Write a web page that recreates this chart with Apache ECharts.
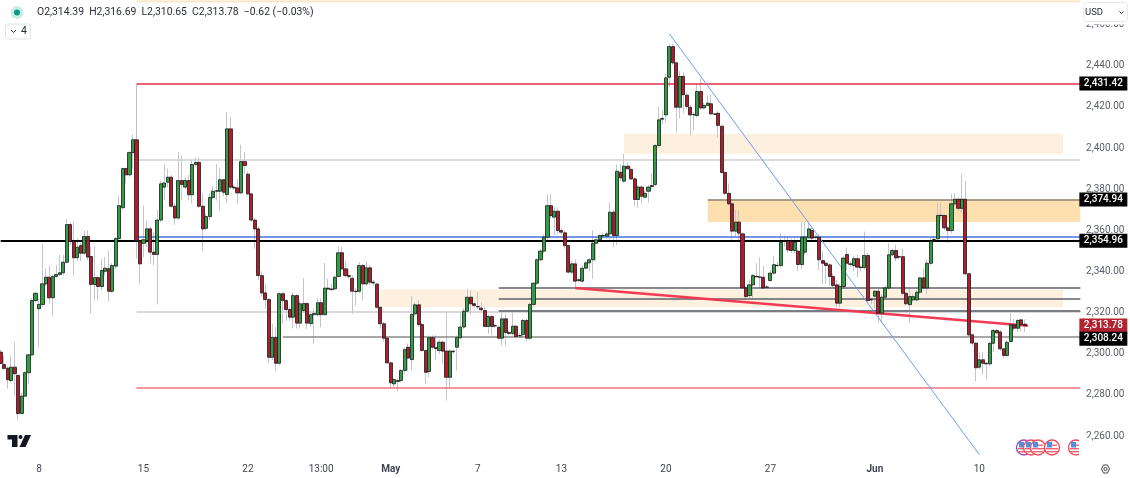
<!DOCTYPE html>
<html style="height: 100%">
<head>
<meta charset="utf-8">
<title>XAUUSD 4h</title>
<script src="https://cdn.jsdelivr.net/npm/echarts@6/dist/echarts.min.js"></script>
</head>
<body style="height: 100%; margin: 0; background: #fff">
<div id="chart" style="width: 1130px; height: 478px"></div>
<script>
// candles, one row = ten bars
var opens = [
  2300.8,2294.8,2293,2287,2293.5,2289.5,2271,2279.4,2290.8,2299.5,
  2325.9,2321.9,2324,2334,2337.2,2327.2,2337.6,2338.5,2339.4,2344.5,
  2362.8,2354.6,2346.7,2352.6,2348.9,2357,2347.3,2333.7,2337,2332.7,
  2340.1,2341.4,2330.4,2342.6,2356,2371,2390,2387,2397.8,2404,
  2354.6,2353.7,2355,2360.7,2349.4,2348.3,2365,2381,2383.4,2385.8,
  2371.7,2366,2384.2,2381,2384.2,2377.3,2392,2393,2371.7,2361,
  2366.7,2376,2379,2379,2384.6,2377.4,2409.3,2381,2380.6,2378.2,
  2393.4,2387.3,2377.7,2365,2360.7,2338,2329.6,2326.4,2298.3,2308,
  2295.4,2329.2,2325.9,2321.5,2317.8,2328.3,2314.9,2321,2324.4,2314.7,
  2319,2319,2324.8,2319,2331.9,2331.2,2331.6,2337.6,2349.1,2341.3,
  2338,2336.7,2330.4,2330.4,2342.9,2334,2341.8,2334.8,2333.9,2322.6,
  2314.6,2307.6,2295.6,2285.4,2286.5,2287,2291.9,2303.2,2297.2,2319.4,
  2323.8,2314.2,2301.6,2291.4,2307.8,2303,2301.6,2305.6,2301.3,2288.6,
  2301.3,2303.2,2307.8,2313,2320.7,2327.5,2324.3,2322.8,2322.2,2321,
  2313.3,2318.1,2313.5,2312.9,2307.6,2317,2310.3,2309.9,2313.4,2308.7,
  2309.4,2316.2,2307.6,2324,2334.3,2345.7,2349.9,2356.7,2372,2366.4,
  2369.3,2359.9,2358.8,2352.6,2339.7,2343.7,2335.6,2335.3,2341.6,2344.2,
  2345.7,2353.7,2355.4,2357.5,2357.2,2358.3,2368.8,2357.5,2388.2,2383.9,
  2391.2,2389.6,2385,2375,2381,2376.1,2379,2381.3,2382.3,2401.2,
  2414,2416.1,2434.4,2449.3,2441.4,2419.8,2434.8,2425.7,2419.8,2416.1,
  2415.8,2427.5,2419.5,2420.7,2421.5,2416.6,2416.9,2410.6,2388.1,2378,
  2372.9,2359.6,2364,2358.3,2332,2328.3,2333.5,2337.6,2337.2,2337.2,
  2332.3,2335.6,2339.2,2343,2342.9,2354.7,2354.7,2354.7,2350.2,2349.9,
  2343.4,2349.4,2356.4,2359.9,2356.7,2356.7,2345.3,2344,2343.2,2337.6,
  2333.5,2324.6,2332.7,2348.3,2343.7,2342.9,2346.2,2342.1,2341.9,2347.8,
  2326.4,2328,2330.4,2319.7,2327.5,2332,2348.1,2350.2,2347.2,2347.2,
  2329.4,2323.9,2326.2,2326.2,2329.9,2336.9,2332,2344,2355.5,2355.9,
  2367.2,2367.2,2361.2,2359.9,2372.9,2375.1,2370.7,2375.1,2338.9,2309.2,
  2305.2,2293.5,2297.1,2295.4,2295.1,2305.1,2311.3,2310.6,2302.4,2299.2,
  2306,2314.1,2312.4,2316.5,2314.39
];
var highs = [
  2302,2299,2294,2299,2305.5,2290,2281,2291.5,2300,2327,
  2330,2326.5,2353.5,2341.5,2343,2338.5,2343,2348,2348,2365.3,
  2363.8,2364,2356,2354,2360,2360,2352,2352,2338,2346,
  2347,2350,2344,2356.7,2376.9,2390.5,2390.5,2398.5,2406.5,2405,
  2355,2372,2364.8,2362,2359,2370,2384,2392,2390,2387,
  2373,2398,2396.4,2386,2387,2394.4,2395.4,2395.4,2378,2368,
  2378,2381.3,2392,2390,2385,2417.4,2415,2382,2385,2401.6,
  2398,2388.6,2378,2366,2362,2340,2334,2327,2314.6,2313,
  2330,2330,2326.5,2323,2330,2329,2326,2336.9,2325,2320,
  2322,2327,2327,2344.2,2336.4,2334,2338,2352.3,2351.8,2345,
  2341,2338,2332,2344.5,2343.7,2345,2343,2336,2334.5,2323,
  2315.5,2308,2296,2288,2288,2292.5,2303,2305,2328,2325,
  2326,2315,2302,2309,2309,2309,2307,2306.5,2320.7,2302,
  2302,2309,2320,2322,2331.6,2331,2325,2330,2325,2323,
  2319,2319,2314.5,2313.5,2321,2319.5,2311,2321,2314,2310,
  2317,2317,2325,2335,2346.5,2351,2358,2377.5,2377.7,2371,
  2371,2361,2360,2353,2345,2346,2337,2343,2345,2346.5,
  2360,2357,2358,2359,2359.5,2373.7,2370,2392,2392,2397.2,
  2393,2391,2386,2382,2382,2379.5,2382,2387.6,2402,2420,
  2418.2,2436,2450.5,2450.5,2442,2437.5,2436.9,2427,2421,2417.5,
  2431.2,2433.7,2422,2425.5,2426,2417,2418,2411,2388.5,2382.8,
  2375,2370,2369.6,2359,2333,2336,2339,2343.9,2346.9,2342.9,
  2333.5,2341,2347.3,2344.5,2358.5,2357.5,2357,2356,2356,2350.5,
  2364,2364,2364,2361.5,2358,2358,2350,2345,2344,2339,
  2336,2334,2347.5,2351.7,2345,2347.5,2348,2343,2359.4,2349,
  2327,2331,2332,2329,2333.5,2353.7,2351,2353,2348,2351,
  2330,2331.9,2329,2331,2337.5,2341.5,2346,2356.7,2357,2373.4,
  2373.7,2368,2362,2377.8,2378,2376,2387.1,2384,2339.5,2310,
  2305.5,2300.8,2300.8,2296,2306,2312,2312,2311.5,2303,2306.5,
  2319.7,2317,2317,2317,2316.69
];
var lows = [
  2295,2292,2283,2286,2279.7,2267.6,2270.5,2279,2285.5,2299,
  2325,2303,2323,2333,2324.5,2318.6,2337,2338,2338,2344,
  2353,2338,2345,2345,2348,2345.5,2319.5,2326,2326,2331,
  2338,2325.4,2329.5,2341,2355,2370,2382.8,2386,2390,2346.3,
  2334,2347,2352,2344,2343,2324,2364,2375,2381,2371,
  2362.8,2365,2374.5,2380,2374.5,2373,2391,2371,2350,2360,
  2365,2375,2374.5,2369.6,2376.5,2373.7,2380,2379.5,2372.9,2377.5,
  2387.6,2377,2364,2351,2336,2328,2322,2295.5,2297,2291.4,
  2294.5,2314.7,2316,2316,2312.3,2312.3,2312.3,2320,2312,2313,
  2304.9,2318,2312.8,2318.6,2331,2330.5,2331,2337,2341,2337,
  2336.5,2319.4,2323.5,2329.5,2325.9,2333,2333.5,2333,2322,2312,
  2306,2295,2283,2284,2281.8,2286,2290,2291.5,2292,2318,
  2313,2301,2285.4,2288.6,2302,2297,2300,2295.5,2277.3,2283,
  2300,2291.9,2307,2312,2320,2319,2322.5,2321.5,2320.5,2313,
  2309.9,2309,2312.5,2307,2304,2304,2309,2308.9,2307.5,2308,
  2308,2306,2306.5,2323,2333.5,2345,2349,2355,2366,2357.5,
  2358,2358,2351,2339,2338.5,2332,2335,2334.5,2341,2340,
  2336.4,2345,2354.5,2356.5,2356,2355,2351.8,2353,2383.9,2383,
  2389.5,2384.5,2371.6,2371,2373,2375.5,2373.6,2380.5,2381.5,2400,
  2411.5,2412.4,2429.6,2440.5,2407.7,2414.5,2417,2419,2406,2408.5,
  2415,2418.5,2419,2420.5,2416,2416,2405,2387.5,2377,2372,
  2355,2357,2354.5,2331.5,2326,2327,2326.9,2337,2332.3,2331.5,
  2331.5,2335,2338.5,2342,2342,2352,2349,2349,2349,2340.1,
  2341,2348,2356,2355,2355.5,2340.5,2334,2334,2333,2332,
  2322.6,2322.5,2331.5,2340.5,2342,2340,2337.2,2340,2341,2325,
  2324,2322,2315,2315.3,2326.5,2331,2347.5,2345,2346,2328.5,
  2323.5,2315.3,2325,2325.5,2329,2331,2329,2343,2354.5,2355,
  2366,2360,2353.7,2358.5,2372,2369.5,2368.5,2338,2308.5,2304,
  2286.7,2292.5,2290,2287.5,2294,2301,2309.5,2301.5,2297.7,2298.5,
  2305.5,2311,2310.5,2311,2310.65
];
var closes = [
  2295.3,2292.9,2287.4,2293.5,2290.3,2271,2279.4,2290.8,2299.5,2325.9,
  2329.4,2324,2334,2337.2,2327.2,2337.6,2338.5,2339.4,2344.5,2362.8,
  2354.6,2346.7,2351.8,2348.9,2357,2347,2333.7,2337,2332.7,2340.5,
  2341.6,2330.4,2342.9,2356,2372,2390,2387,2397.8,2404,2355,
  2343.7,2355.4,2360.7,2349.4,2348.3,2365,2382.6,2383,2385.8,2371.7,
  2366,2384.2,2382.3,2384.2,2377.3,2392,2393,2371.7,2360.7,2366.7,
  2376,2379,2379.3,2384.6,2378.5,2409.3,2381,2380.6,2378.2,2393.4,
  2391.5,2377.7,2365,2360.7,2338,2329.6,2326.4,2298.3,2308,2295.4,
  2329.2,2325.9,2321.5,2317.8,2328.3,2314.9,2324.3,2324.4,2314.9,2319,
  2319.6,2324.8,2319,2331.9,2331.5,2331.5,2337.2,2349.1,2341.3,2338,
  2337.6,2330.4,2330.2,2342.9,2334,2341.8,2334.8,2334.4,2322.6,2314.6,
  2307.6,2295.6,2285.9,2287.5,2287,2291.9,2302,2297.9,2319.1,2323.8,
  2314.2,2301.6,2291,2307.8,2303.2,2302.5,2305.6,2301.3,2288.6,2301.3,
  2301,2307.8,2313,2320.7,2327.5,2324.3,2323.5,2323,2321.4,2313.3,
  2318.1,2313.3,2313.7,2307.6,2317,2310.3,2309.9,2313.4,2308.4,2308.9,
  2316.2,2307.6,2324,2334.3,2345.7,2349.9,2356.7,2372,2367.2,2369.3,
  2359.9,2359.1,2352.6,2339.7,2343.7,2335.3,2336,2341.6,2344.2,2345.7,
  2353.7,2355.4,2357.5,2357.3,2358.3,2368.8,2357.5,2388.7,2385.5,2391.2,
  2389.9,2385,2375,2381,2376.6,2378,2381,2381.8,2401.2,2413.7,
  2414.4,2434.1,2449.3,2441.4,2419.8,2434.8,2425.9,2420.2,2416.1,2416.3,
  2427.5,2419.5,2420.7,2421.8,2416.6,2416.4,2411,2388.1,2378,2372.9,
  2359.6,2364,2358.6,2332,2327.8,2333.5,2338,2337.4,2337.3,2332,
  2332.5,2339.2,2343.3,2342.9,2354.2,2354.8,2350.5,2350.2,2354.2,2343.4,
  2356.7,2356.7,2360.7,2356.2,2356.5,2345.7,2344,2342.9,2337.6,2333.2,
  2324.6,2332.7,2346.5,2344,2343.5,2346.2,2342.1,2341.9,2347.8,2325.9,
  2326.2,2330.4,2319.7,2327.5,2332,2348.1,2350.2,2346.6,2347,2329.4,
  2324.3,2327.8,2327.8,2329.9,2336.9,2332,2344,2354.6,2355.6,2367.2,
  2367.3,2361.2,2359.9,2372.9,2375.1,2370.7,2375.1,2338.9,2309.2,2305.2,
  2293.2,2297.1,2295.4,2295.1,2305.1,2311.3,2310.2,2302.4,2299.2,2305.6,
  2314.1,2312.4,2316.2,2314.1,2313.78
];

// axis ticks
var timeTickBars = [11, 41, 71, 92, 112, 137, 161, 191, 221, 251, 281];
var timeTickLabels = ['8', '15', '22', '13:00', 'May', '7', '13', '20', '27', 'Jun', '10'];
var priceTicks = [2260, 2280, 2300, 2320, 2340, 2360, 2380, 2400, 2420, 2440, 2460];

// drawn levels
var resistanceTop = 2431.42;
var supportBottom = 2283.3;
var midGrey = 2394.1;
var blueLevel = 2357.1;
var blackLevel = 2354.96;
var upperBoxTop = 2374.94;
var upperBoxBottom = 2364;
var farBox = [2406.9, 2397.2];
var lowBox = [2331.2, 2322.6];
var lowLines = [2331.9, 2326.7, 2320.9];
var lowGrey = 2320.2;
var weekLow = 2308.24;
var lastPrice = 2313.78;
var redTrend = [2332, 2313.6];
var blueTrend = [2455.5, 2251];

var barCount = 311;
var lastBar = barCount - 1;
var categories = [];
for (var i = 0; i < barCount; i++) {
  categories.push(String(i));
}

var wickData = [];
var bodyData = [];
for (var i = 0; i < opens.length; i++) {
  wickData.push([opens[i], closes[i], lows[i], highs[i]]);
  bodyData.push([opens[i], closes[i], Math.min(opens[i], closes[i]), Math.max(opens[i], closes[i])]);
}

function fmtPrice(v) {
  return v.toLocaleString('en-US', { minimumFractionDigits: 2, maximumFractionDigits: 2 });
}

function hLine(fromBar, price, color, width) {
  return [
    { xAxis: fromBar, yAxis: price, lineStyle: { color: color, width: width, type: 'solid', opacity: 1 } },
    { xAxis: lastBar, yAxis: price }
  ];
}
function slant(fromBar, toBar, pair, color, width) {
  return [
    { xAxis: fromBar, yAxis: pair[0], lineStyle: { color: color, width: width, type: 'solid', opacity: 1 } },
    { xAxis: toBar, yAxis: pair[1] }
  ];
}
function box(fromBar, toBar, top, bottom, color) {
  return [
    { xAxis: fromBar, yAxis: top, itemStyle: { color: color, opacity: 1 } },
    { xAxis: toBar, yAxis: bottom }
  ];
}
function tag(price, color, dy) {
  return {
    coord: [lastBar, price],
    symbol: 'rect',
    symbolSize: [48, 14],
    symbolOffset: [23, dy],
    itemStyle: { color: color },
    label: {
      show: true,
      position: 'inside',
      color: '#fff',
      fontFamily: 'Roboto',
      fontSize: 10,
      fontWeight: 500,
      formatter: fmtPrice(price)
    }
  };
}

var chrome = [
  // legend row
  { type: 'circle', shape: { cx: 17, cy: 12.5, r: 6.5 }, style: { fill: '#c9ece7' } },
  { type: 'circle', shape: { cx: 17, cy: 12.5, r: 3 }, style: { fill: '#089981' } },
  { type: 'text', x: 37, y: 12.5, style: {
    text: 'O2,314.39  H2,316.69  L2,310.65  C2,313.78  \u22120.62 (\u22120.03%)',
    font: '10.4px Roboto', fill: '#2a2e39', textVerticalAlign: 'middle'
  } },
  { type: 'rect', shape: { x: 5.5, y: 24, width: 25, height: 15, r: 2 }, style: { fill: '#fff', stroke: '#e0e3eb' } },
  { type: 'polyline', shape: { points: [[11, 30], [13.5, 32.5], [16, 30]] }, style: { stroke: '#2a2e39', fill: null, lineWidth: 1 } },
  { type: 'text', x: 21, y: 31, style: { text: '4', font: '10.5px Roboto', fill: '#2a2e39', textVerticalAlign: 'middle' } },
  // currency button, hides the clipped top tick
  { type: 'rect', shape: { x: 1081, y: 0, width: 49, height: 24.5 }, style: { fill: '#fff' } },
  { type: 'rect', shape: { x: 1083.5, y: 2.5, width: 44, height: 19, r: 3 }, style: { fill: '#fff', stroke: '#e6e8ee' } },
  { type: 'text', x: 1085, y: 12.5, style: { text: 'USD', font: '9.5px Roboto', fill: '#2a2e39', textVerticalAlign: 'middle' } },
  { type: 'polyline', shape: { points: [[1119.5, 11.5], [1121.5, 13.5], [1123.5, 11.5]] }, style: { stroke: '#2a2e39', fill: null, lineWidth: 1 } },
  // logo
  { type: 'polygon', shape: { points: [[7.5, 435], [17.5, 435], [17.5, 447], [12, 447], [12, 439.5], [7.5, 439.5]] }, style: { fill: '#131722' } },
  { type: 'circle', shape: { cx: 20.5, cy: 437, r: 2 }, style: { fill: '#131722' } },
  { type: 'polygon', shape: { points: [[25, 435], [31, 435], [25.5, 447], [19.5, 447]] }, style: { fill: '#131722' } },
  // settings
  { type: 'polygon', shape: { points: [[1101.5, 469], [1103.5, 465], [1107.5, 465], [1109.5, 469], [1107.5, 473], [1103.5, 473]] }, style: { fill: '#fff', stroke: '#434651', lineWidth: 1 } },
  { type: 'circle', shape: { cx: 1105.5, cy: 469, r: 1.6 }, style: { fill: '#fff', stroke: '#434651', lineWidth: 1 } }
];

// event badges under the candles
function badge(cx, ring) {
  return [
    { type: 'circle', shape: { cx: cx, cy: 447.5, r: 7.5 }, style: { fill: '#fff', stroke: ring, lineWidth: 1.4 } },
    { type: 'rect', shape: { x: cx - 5, y: 444.5, width: 10, height: 1.4 }, style: { fill: '#f0616e' } },
    { type: 'rect', shape: { x: cx - 6, y: 448, width: 12, height: 1.4 }, style: { fill: '#f0616e' } },
    { type: 'rect', shape: { x: cx - 5, y: 451, width: 10, height: 1.4 }, style: { fill: '#f0616e' } },
    { type: 'rect', shape: { x: cx - 5, y: 442, width: 5, height: 5.5 }, style: { fill: '#4f8fe0' } }
  ];
}
var badges = [].concat(badge(1024, '#a24bc4'), badge(1031, '#ee4e5e'), badge(1038, '#ee4e5e'), badge(1052, '#ee4e5e'), badge(1076, '#ee4e5e'));
badges.push({ type: 'rect', shape: { x: 1079, y: 438, width: 12, height: 19 }, style: { fill: '#fff' } });

var overlays = chrome.concat(badges);
for (var k = 0; k < overlays.length; k++) {
  overlays[k].z = 100;
}

var chart = echarts.init(document.getElementById('chart'), null, { renderer: 'canvas' });
chart.setOption({
  animation: false,
  backgroundColor: '#fff',
  grid: { left: -1.07, right: 47.9, top: 0.5, height: 457, containLabel: false, outerBoundsMode: 'none' },
  xAxis: {
    type: 'category',
    data: categories,
    boundaryGap: true,
    axisLine: { show: false },
    axisTick: { show: false },
    splitLine: { show: false },
    axisLabel: {
      margin: 7,
      interval: function (idx) { return timeTickBars.indexOf(idx) >= 0; },
      formatter: function (v, idx) {
        var t = timeTickLabels[timeTickBars.indexOf(idx)];
        return (t === 'May' || t === 'Jun') ? '{b|' + t + '}' : t;
      },
      color: '#434651',
      fontFamily: 'Roboto',
      fontSize: 10,
      rich: { b: { fontFamily: 'Roboto', fontSize: 10, fontWeight: 'bold', color: '#434651' } }
    }
  },
  yAxis: {
    type: 'value',
    position: 'right',
    min: 2249.6,
    max: 2471.7,
    axisLine: { show: false },
    axisTick: { show: false },
    splitLine: { show: false },
    axisLabel: {
      margin: 4,
      customValues: priceTicks,
      formatter: fmtPrice,
      color: '#5a5e6a',
      fontFamily: 'Roboto',
      fontSize: 10,
      padding: [3, 0, 0, 0]
    }
  },
  series: [
    {
      name: 'boxes',
      type: 'line',
      data: [],
      silent: true,
      markArea: {
        silent: true,
        z: 1,
        data: [
          box(39, lastBar, 2471.7, 2470.8, '#fde4bb'),
          box(179, 305, farBox[0], farBox[1], '#fef0de'),
          box(109, 305, lowBox[0], lowBox[1], '#fef0de'),
          box(203, lastBar, upperBoxTop, upperBoxBottom, '#fddfb0')
        ]
      }
    },
    {
      name: 'wicks',
      type: 'candlestick',
      z: 2,
      barWidth: 1,
      silent: true,
      data: wickData,
      itemStyle: {
        color: '#c2c5cd', color0: '#c2c5cd',
        borderColor: '#c2c5cd', borderColor0: '#c2c5cd', borderColorDoji: '#c2c5cd',
        borderWidth: 1
      }
    },
    {
      name: 'levels',
      type: 'line',
      data: [],
      silent: true,
      z: 3,
      markLine: {
        silent: true,
        z: 3,
        symbol: 'none',
        animation: false,
        label: { show: false },
        data: [
          hLine(39, resistanceTop, '#e62e47', 1.5),
          [
            { xAxis: 39, yAxis: resistanceTop, lineStyle: { color: '#bcbfc8', width: 1, type: 'solid', opacity: 1 } },
            { xAxis: 39, yAxis: opens[39] }
          ],
          hLine(39, midGrey, '#cfcfcf', 1.5),
          hLine(39, blueLevel, '#4473e0', 1.5),
          hLine(0, blackLevel, '#000000', 2),
          hLine(203, upperBoxTop, '#8c8272', 1.5),
          hLine(39, lowGrey, '#cbcbcb', 1.5),
          hLine(143, lowLines[0], '#5f6268', 1.5),
          hLine(143, lowLines[1], '#5f6268', 1.5),
          hLine(143, lowLines[2], '#7b7d85', 2),
          hLine(81, weekLow, '#8a8a8a', 1.5),
          hLine(39, supportBottom, '#f0707c', 1.5),
          slant(192, 281, blueTrend, '#6f9cf2', 1),
          slant(165, 295, redTrend, '#f23a55', 2.5)
        ]
      }
    },
    {
      name: 'bodies',
      type: 'candlestick',
      z: 4,
      barWidth: 3.6,
      silent: true,
      data: bodyData,
      itemStyle: {
        color: '#2e9e44', color0: '#b01c2e',
        borderColor: '#1a1a1a', borderColor0: '#1a1a1a', borderColorDoji: '#1a1a1a',
        borderWidth: 0.8
      }
    },
    {
      name: 'tags',
      type: 'line',
      data: [],
      silent: true,
      z: 10,
      markPoint: {
        silent: true,
        z: 10,
        data: [
          tag(resistanceTop, '#000', 0),
          tag(upperBoxTop, '#000', 0),
          tag(blackLevel, '#000', 0),
          tag(lastPrice, '#b2222f', 0),
          tag(weekLow, '#000', 2)
        ]
      }
    }
  ],
  graphic: { elements: overlays }
});
</script>
</body>
</html>
